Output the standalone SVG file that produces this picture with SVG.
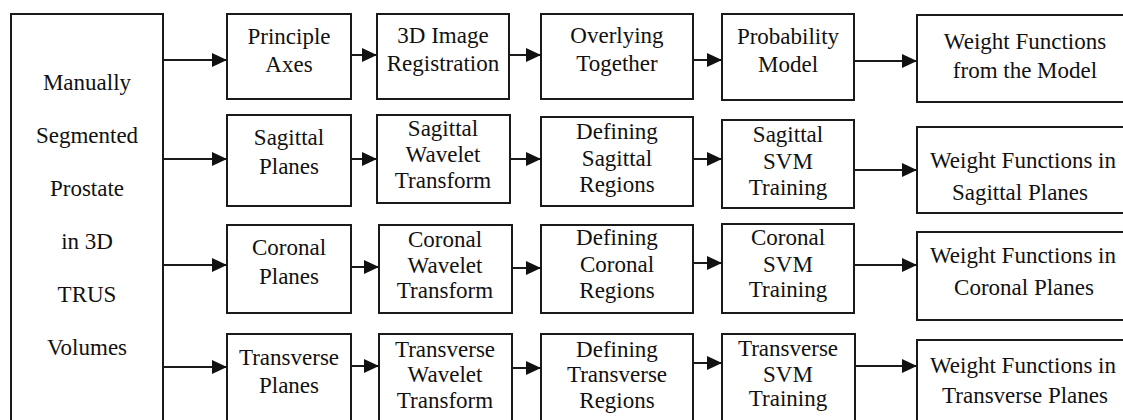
<svg xmlns="http://www.w3.org/2000/svg" width="1123" height="420" viewBox="0 0 1123 420">
  <style>
    .box { fill: #ffffff; stroke: #1a1a1a; stroke-width: 2; }
    text { font-family: "Liberation Serif", "Times New Roman", serif; font-size: 23px; fill: #111111; text-anchor: middle; }
    .edge { stroke: #1a1a1a; stroke-width: 2; fill: none; marker-end: url(#head); }
  </style>
  <defs>
    <marker id="head" markerUnits="userSpaceOnUse" markerWidth="15" markerHeight="14" refX="15" refY="7" orient="auto">
      <path d="M0,0 L15,7 L0,14 Z" fill="#111111"/>
    </marker>
  </defs>
  <rect width="1123" height="420" fill="#ffffff"/>

  <!-- source volume -->
  <g id="source">
    <rect class="box" x="11" y="14" width="152" height="420"/>
    <text x="87" y="90">Manually</text>
    <text x="87" y="143">Segmented</text>
    <text x="87" y="196">Prostate</text>
    <text x="87" y="249">in 3D</text>
    <text x="87" y="302">TRUS</text>
    <text x="87" y="355">Volumes</text>
  </g>

  <!-- row 1: probability model -->
  <g id="principle-axes">
    <rect class="box" x="227" y="14" width="124" height="85"/>
    <text x="289" y="44">Principle</text>
    <text x="289" y="72">Axes</text>
  </g>
  <g id="registration">
    <rect class="box" x="377" y="14" width="132" height="85"/>
    <text x="443" y="43">3D Image</text>
    <text x="443" y="71">Registration</text>
  </g>
  <g id="overlying">
    <rect class="box" x="541" y="14" width="152" height="85"/>
    <text x="617" y="43">Overlying</text>
    <text x="617" y="71">Together</text>
  </g>
  <g id="probability-model">
    <rect class="box" x="722" y="14" width="132" height="86"/>
    <text x="788" y="44">Probability</text>
    <text x="788" y="72">Model</text>
  </g>
  <g id="weights-model">
    <rect class="box" x="917" y="15" width="214" height="87"/>
    <text x="1025" y="49">Weight Functions</text>
    <text x="1025" y="78">from the Model</text>
  </g>

  <!-- row 2: sagittal -->
  <g id="sagittal-planes">
    <rect class="box" x="227" y="115" width="124" height="91"/>
    <text x="289" y="145">Sagittal</text>
    <text x="289" y="174">Planes</text>
  </g>
  <g id="sagittal-wavelet">
    <rect class="box" x="377" y="115" width="133" height="88"/>
    <text x="443" y="136">Sagittal</text>
    <text x="443" y="162">Wavelet</text>
    <text x="443" y="188">Transform</text>
  </g>
  <g id="sagittal-regions">
    <rect class="box" x="541" y="117" width="152" height="89"/>
    <text x="617" y="139">Defining</text>
    <text x="617" y="166">Sagittal</text>
    <text x="617" y="192">Regions</text>
  </g>
  <g id="sagittal-svm">
    <rect class="box" x="722" y="120" width="132" height="88"/>
    <text x="788" y="142">Sagittal</text>
    <text x="788" y="169">SVM</text>
    <text x="788" y="195">Training</text>
  </g>
  <g id="weights-sagittal">
    <rect class="box" x="917" y="127" width="214" height="86"/>
    <text x="1023" y="168">Weight Functions in</text>
    <text x="1020" y="200">Sagittal Planes</text>
  </g>

  <!-- row 3: coronal -->
  <g id="coronal-planes">
    <rect class="box" x="227" y="225" width="124" height="88"/>
    <text x="289" y="255">Coronal</text>
    <text x="289" y="284">Planes</text>
  </g>
  <g id="coronal-wavelet">
    <rect class="box" x="379" y="225" width="133" height="88"/>
    <text x="445" y="247">Coronal</text>
    <text x="445" y="273">Wavelet</text>
    <text x="445" y="298">Transform</text>
  </g>
  <g id="coronal-regions">
    <rect class="box" x="541" y="225" width="152" height="88"/>
    <text x="617" y="245">Defining</text>
    <text x="617" y="272">Coronal</text>
    <text x="617" y="298">Regions</text>
  </g>
  <g id="coronal-svm">
    <rect class="box" x="722" y="224" width="132" height="89"/>
    <text x="788" y="245">Coronal</text>
    <text x="788" y="272">SVM</text>
    <text x="788" y="297">Training</text>
  </g>
  <g id="weights-coronal">
    <rect class="box" x="917" y="232" width="214" height="88"/>
    <text x="1023" y="263">Weight Functions in</text>
    <text x="1024" y="295">Coronal Planes</text>
  </g>

  <!-- row 4: transverse -->
  <g id="transverse-planes">
    <rect class="box" x="227" y="334" width="124" height="100"/>
    <text x="289" y="365">Transverse</text>
    <text x="289" y="393">Planes</text>
  </g>
  <g id="transverse-wavelet">
    <rect class="box" x="379" y="334" width="133" height="100"/>
    <text x="445" y="357">Transverse</text>
    <text x="445" y="382">Wavelet</text>
    <text x="445" y="408">Transform</text>
  </g>
  <g id="transverse-regions">
    <rect class="box" x="541" y="334" width="152" height="100"/>
    <text x="617" y="357">Defining</text>
    <text x="617" y="382">Transverse</text>
    <text x="617" y="408">Regions</text>
  </g>
  <g id="transverse-svm">
    <rect class="box" x="722" y="334" width="133" height="100"/>
    <text x="788" y="356">Transverse</text>
    <text x="788" y="382">SVM</text>
    <text x="788" y="406">Training</text>
  </g>
  <g id="weights-transverse">
    <rect class="box" x="917" y="340" width="214" height="100"/>
    <text x="1023" y="373">Weight Functions in</text>
    <text x="1025" y="403">Transverse Planes</text>
  </g>

  <!-- connectors -->
  <g id="connectors">
    <line class="edge" x1="163" y1="60" x2="227" y2="60"/>
    <line class="edge" x1="351" y1="55" x2="377" y2="55"/>
    <line class="edge" x1="509" y1="55" x2="541" y2="55"/>
    <line class="edge" x1="693" y1="60" x2="722" y2="60"/>
    <line class="edge" x1="854" y1="61" x2="917" y2="61"/>

    <line class="edge" x1="163" y1="159" x2="227" y2="159"/>
    <line class="edge" x1="351" y1="159" x2="377" y2="159"/>
    <line class="edge" x1="510" y1="159" x2="541" y2="159"/>
    <line class="edge" x1="693" y1="159" x2="722" y2="159"/>
    <line class="edge" x1="854" y1="170" x2="917" y2="170"/>

    <line class="edge" x1="163" y1="265" x2="227" y2="265"/>
    <line class="edge" x1="351" y1="267" x2="379" y2="267"/>
    <line class="edge" x1="512" y1="268" x2="541" y2="268"/>
    <line class="edge" x1="693" y1="263" x2="722" y2="263"/>
    <line class="edge" x1="854" y1="265" x2="917" y2="265"/>

    <line class="edge" x1="163" y1="367" x2="227" y2="367"/>
    <line class="edge" x1="351" y1="366" x2="379" y2="366"/>
    <line class="edge" x1="512" y1="368" x2="541" y2="368"/>
    <line class="edge" x1="693" y1="363" x2="722" y2="363"/>
    <line class="edge" x1="855" y1="366" x2="917" y2="366"/>
  </g>
</svg>
